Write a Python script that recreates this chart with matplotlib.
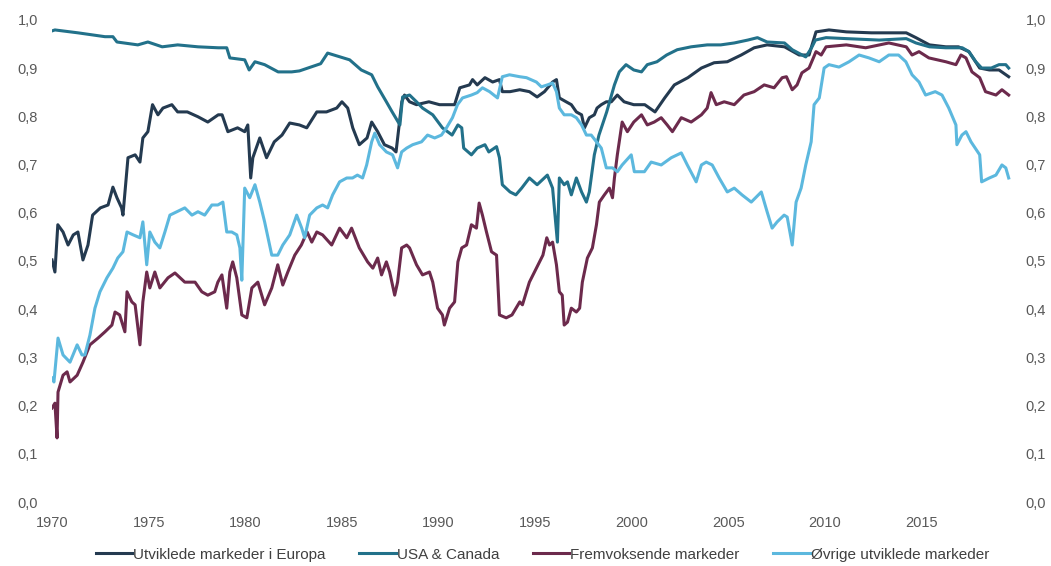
import matplotlib
matplotlib.use("Agg")
import matplotlib.pyplot as plt
from matplotlib.ticker import FuncFormatter

# --- data (correlation, 1970-2019) ---
years_eu = [1970.0, 1970.15, 1970.3, 1970.57, 1970.83, 1971.1, 1971.34, 1971.6, 1971.86, 1972.1,
            1972.5, 1972.9, 1973.15, 1973.36, 1973.6, 1973.67, 1973.93, 1974.3, 1974.55, 1974.7,
            1974.96, 1975.2, 1975.48, 1975.74, 1976.2, 1976.5, 1977.0, 1977.55, 1978.06, 1978.6,
            1978.8, 1979.1, 1979.6, 1979.97, 1980.13, 1980.28, 1980.39, 1980.75, 1981.1, 1981.5,
            1981.9, 1982.3, 1982.8, 1983.18, 1983.7, 1984.2, 1984.73, 1985.0, 1985.3, 1985.56,
            1985.9, 1986.3, 1986.54, 1986.85, 1987.2, 1987.6, 1987.8, 1988.1, 1988.24, 1988.5,
            1988.86, 1989.5, 1990.05, 1990.83, 1991.1, 1991.6, 1991.76, 1992.0, 1992.4, 1992.8,
            1993.15, 1993.3, 1993.7, 1994.2, 1994.7, 1995.1, 1995.48, 1995.9, 1996.1, 1996.25,
            1996.6, 1996.87, 1997.13, 1997.4, 1997.55, 1997.8, 1998.06, 1998.2, 1998.42, 1998.68,
            1998.94, 1999.25, 1999.6, 2000.1, 2000.67, 2001.2, 2001.7, 2002.2, 2002.9, 2003.6,
            2004.26, 2004.94, 2005.66, 2006.33, 2007.0, 2007.9, 2008.66, 2009.17, 2009.53, 2010.2,
            2011.1, 2012.4, 2014.2, 2014.7, 2015.4, 2016.25, 2016.9, 2017.44, 2018.0, 2018.5,
            2019.0, 2019.5]
europa = [0.502, 0.477, 0.575, 0.560, 0.533, 0.554, 0.560, 0.502, 0.533, 0.595,
          0.610, 0.616, 0.653, 0.631, 0.610, 0.595, 0.714, 0.720, 0.705, 0.755,
          0.768, 0.824, 0.803, 0.817, 0.824, 0.809, 0.809, 0.799, 0.788, 0.803,
          0.803, 0.768, 0.776, 0.768, 0.782, 0.672, 0.714, 0.755, 0.714, 0.747,
          0.761, 0.786, 0.782, 0.776, 0.809, 0.809, 0.817, 0.830, 0.817, 0.776,
          0.741, 0.755, 0.788, 0.768, 0.741, 0.734, 0.726, 0.830, 0.844, 0.830,
          0.824, 0.830, 0.824, 0.824, 0.859, 0.865, 0.876, 0.865, 0.880, 0.871,
          0.876, 0.851, 0.851, 0.855, 0.851, 0.840, 0.851, 0.871, 0.876, 0.838,
          0.830, 0.824, 0.809, 0.803, 0.776, 0.797, 0.803, 0.817, 0.824, 0.830,
          0.830, 0.844, 0.830, 0.824, 0.824, 0.809, 0.838, 0.865, 0.880, 0.900,
          0.911, 0.913, 0.927, 0.942, 0.948, 0.944, 0.927, 0.927, 0.975, 0.979,
          0.975, 0.973, 0.973, 0.963, 0.948, 0.944, 0.944, 0.934, 0.900, 0.896,
          0.896, 0.882]

years_us = [1970.0, 1970.15, 1971.34, 1972.74, 1973.15, 1973.36, 1974.44, 1974.96, 1975.7, 1976.5,
            1977.55, 1978.6, 1979.04, 1979.2, 1979.97, 1980.2, 1980.5, 1981.0, 1981.7, 1982.4,
            1982.8, 1983.9, 1984.26, 1985.4, 1986.0, 1986.54, 1986.85, 1987.3, 1987.6, 1988.0,
            1988.14, 1988.5, 1988.86, 1989.17, 1989.7, 1990.2, 1990.7, 1991.0, 1991.2, 1991.3,
            1991.7, 1992.0, 1992.4, 1992.6, 1993.0, 1993.15, 1993.3, 1993.7, 1994.0, 1994.3,
            1994.7, 1995.1, 1995.63, 1995.9, 1996.15, 1996.25, 1996.5, 1996.67, 1996.87, 1997.13,
            1997.4, 1997.65, 1997.8, 1998.06, 1998.3, 1998.7, 1999.1, 1999.35, 1999.7, 2000.1,
            2000.5, 2000.8, 2001.3, 2001.8, 2002.35, 2003.07, 2003.9, 2004.6, 2005.3, 2006.0,
            2006.5, 2007.0, 2007.9, 2008.3, 2009.0, 2009.3, 2009.5, 2010.05, 2011.1, 2012.8,
            2014.2, 2014.7, 2015.4, 2016.25, 2017.1, 2017.44, 2017.8, 2018.1, 2018.6, 2019.0,
            2019.35, 2019.5]
usa_canada = [0.977, 0.979, 0.973, 0.965, 0.965, 0.954, 0.948, 0.954, 0.944, 0.948,
              0.944, 0.942, 0.942, 0.921, 0.917, 0.896, 0.913, 0.907, 0.892, 0.892,
              0.894, 0.909, 0.931, 0.917, 0.896, 0.886, 0.861, 0.830, 0.809, 0.782,
              0.840, 0.844, 0.830, 0.817, 0.803, 0.776, 0.761, 0.782, 0.776, 0.734,
              0.720, 0.734, 0.741, 0.726, 0.737, 0.714, 0.658, 0.643, 0.637, 0.651,
              0.672, 0.658, 0.678, 0.651, 0.539, 0.672, 0.658, 0.664, 0.637, 0.672,
              0.643, 0.622, 0.643, 0.720, 0.761, 0.809, 0.865, 0.892, 0.907, 0.896,
              0.892, 0.907, 0.913, 0.927, 0.938, 0.944, 0.948, 0.948, 0.952, 0.958,
              0.963, 0.954, 0.952, 0.938, 0.923, 0.942, 0.958, 0.963, 0.961, 0.958,
              0.961, 0.952, 0.944, 0.942, 0.942, 0.934, 0.913, 0.900, 0.900, 0.907,
              0.907, 0.900]

years_em = [1970.0, 1970.15, 1970.26, 1970.31, 1970.57, 1970.78, 1970.93, 1971.3, 1971.6, 1971.96,
            1972.38, 1972.74, 1973.1, 1973.26, 1973.5, 1973.77, 1973.88, 1974.13, 1974.3, 1974.55,
            1974.7, 1974.9, 1975.06, 1975.32, 1975.58, 1976.0, 1976.36, 1976.87, 1977.4, 1977.75,
            1978.06, 1978.42, 1978.58, 1978.79, 1979.04, 1979.2, 1979.35, 1979.56, 1979.82, 1980.08,
            1980.34, 1980.65, 1981.0, 1981.37, 1981.68, 1981.94, 1982.2, 1982.56, 1982.9, 1983.2,
            1983.44, 1983.7, 1984.0, 1984.47, 1984.88, 1985.25, 1985.5, 1985.9, 1986.33, 1986.6,
            1986.85, 1987.05, 1987.3, 1987.47, 1987.73, 1987.88, 1988.09, 1988.35, 1988.5, 1988.86,
            1989.17, 1989.53, 1989.7, 1989.95, 1990.2, 1990.3, 1990.57, 1990.83, 1991.0, 1991.2,
            1991.45, 1991.7, 1991.96, 1992.1, 1992.27, 1992.48, 1992.74, 1993.0, 1993.15, 1993.5,
            1993.8, 1994.2, 1994.34, 1994.7, 1995.06, 1995.4, 1995.6, 1995.74, 1995.9, 1996.1,
            1996.25, 1996.4, 1996.5, 1996.67, 1996.87, 1997.13, 1997.3, 1997.44, 1997.7, 1997.96,
            1998.17, 1998.32, 1998.58, 1998.84, 1999.0, 1999.1, 1999.25, 1999.5, 1999.77, 2000.1,
            2000.5, 2000.8, 2001.16, 2001.52, 2001.83, 2002.1, 2002.56, 2003.07, 2003.6, 2003.9,
            2004.1, 2004.37, 2004.78, 2005.3, 2005.8, 2006.33, 2006.85, 2007.36, 2007.78, 2008.0,
            2008.3, 2008.55, 2008.8, 2009.17, 2009.53, 2009.8, 2010.05, 2011.1, 2012.1, 2013.3,
            2014.2, 2014.5, 2014.86, 2015.37, 2016.25, 2016.77, 2017.03, 2017.29, 2017.6, 2018.0,
            2018.3, 2018.84, 2019.15, 2019.5]
fremvoksende = [0.195, 0.205, 0.133, 0.228, 0.263, 0.270, 0.249, 0.263, 0.290, 0.326,
                0.340, 0.353, 0.367, 0.394, 0.388, 0.353, 0.436, 0.415, 0.409, 0.326,
                0.415, 0.477, 0.444, 0.477, 0.444, 0.465, 0.475, 0.456, 0.456, 0.436,
                0.429, 0.436, 0.456, 0.471, 0.402, 0.477, 0.498, 0.465, 0.388, 0.382,
                0.444, 0.456, 0.409, 0.444, 0.492, 0.450, 0.477, 0.512, 0.533, 0.560,
                0.539, 0.560, 0.554, 0.533, 0.568, 0.548, 0.568, 0.527, 0.498, 0.485,
                0.506, 0.471, 0.498, 0.477, 0.429, 0.456, 0.527, 0.533, 0.527, 0.492,
                0.471, 0.477, 0.456, 0.402, 0.388, 0.367, 0.402, 0.415, 0.498, 0.527,
                0.533, 0.575, 0.568, 0.620, 0.595, 0.560, 0.519, 0.512, 0.388, 0.382,
                0.388, 0.415, 0.409, 0.456, 0.485, 0.512, 0.548, 0.533, 0.539, 0.492,
                0.436, 0.429, 0.367, 0.373, 0.402, 0.394, 0.402, 0.456, 0.506, 0.527,
                0.575, 0.622, 0.637, 0.651, 0.631, 0.672, 0.720, 0.788, 0.768, 0.788,
                0.803, 0.782, 0.788, 0.797, 0.782, 0.768, 0.797, 0.788, 0.803, 0.817,
                0.849, 0.824, 0.830, 0.824, 0.844, 0.851, 0.865, 0.859, 0.880, 0.882,
                0.855, 0.865, 0.890, 0.900, 0.934, 0.927, 0.944, 0.948, 0.942, 0.952,
                0.944, 0.927, 0.934, 0.921, 0.913, 0.907, 0.927, 0.921, 0.892, 0.880,
                0.851, 0.844, 0.855, 0.844]

years_ot = [1970.0, 1970.1, 1970.31, 1970.57, 1970.93, 1971.3, 1971.55, 1971.7, 1971.96, 1972.22,
            1972.48, 1972.84, 1973.15, 1973.4, 1973.67, 1973.88, 1974.2, 1974.55, 1974.7, 1974.9,
            1975.06, 1975.32, 1975.58, 1975.84, 1976.1, 1976.46, 1976.87, 1977.24, 1977.55, 1977.9,
            1978.27, 1978.58, 1978.84, 1979.04, 1979.3, 1979.56, 1979.72, 1979.82, 1979.97, 1980.23,
            1980.5, 1980.75, 1981.0, 1981.37, 1981.68, 1981.94, 1982.3, 1982.66, 1982.92, 1983.07,
            1983.33, 1983.7, 1984.0, 1984.26, 1984.52, 1984.88, 1985.25, 1985.55, 1985.8, 1986.07,
            1986.28, 1986.54, 1986.7, 1986.95, 1987.3, 1987.62, 1987.88, 1988.09, 1988.35, 1988.66,
            1989.12, 1989.43, 1989.8, 1990.15, 1990.41, 1990.72, 1990.98, 1991.24, 1991.7, 1992.0,
            1992.27, 1992.64, 1993.05, 1993.3, 1993.67, 1994.2, 1994.55, 1995.06, 1995.32, 1995.63,
            1995.9, 1996.1, 1996.25, 1996.5, 1996.87, 1997.13, 1997.4, 1997.65, 1997.9, 1998.17,
            1998.42, 1998.68, 1999.0, 1999.25, 1999.5, 1999.97, 2000.13, 2000.65, 2001.0, 2001.52,
            2002.04, 2002.56, 2002.87, 2003.33, 2003.6, 2003.85, 2004.16, 2004.52, 2004.94, 2005.3,
            2005.7, 2006.18, 2006.7, 2007.0, 2007.26, 2007.52, 2007.88, 2008.04, 2008.3, 2008.5,
            2008.76, 2009.0, 2009.28, 2009.43, 2009.7, 2009.95, 2010.2, 2010.72, 2011.24, 2011.76,
            2012.27, 2012.8, 2013.3, 2013.8, 2014.18, 2014.5, 2014.86, 2015.2, 2015.7, 2016.05,
            2016.4, 2016.77, 2016.82, 2017.08, 2017.29, 2017.55, 2018.0, 2018.1, 2018.5, 2018.84,
            2019.15, 2019.35, 2019.5]
ovrige = [0.257, 0.249, 0.340, 0.305, 0.290, 0.326, 0.305, 0.305, 0.346, 0.402,
          0.436, 0.465, 0.485, 0.506, 0.519, 0.560, 0.554, 0.548, 0.581, 0.492,
          0.560, 0.539, 0.527, 0.560, 0.595, 0.602, 0.610, 0.595, 0.602, 0.595,
          0.616, 0.616, 0.622, 0.560, 0.560, 0.554, 0.527, 0.460, 0.651, 0.631,
          0.658, 0.622, 0.581, 0.512, 0.512, 0.533, 0.554, 0.595, 0.568, 0.548,
          0.595, 0.610, 0.616, 0.610, 0.637, 0.664, 0.672, 0.672, 0.678, 0.672,
          0.699, 0.747, 0.765, 0.741, 0.726, 0.720, 0.693, 0.726, 0.734, 0.741,
          0.747, 0.761, 0.755, 0.761, 0.776, 0.797, 0.824, 0.838, 0.844, 0.849,
          0.859, 0.851, 0.838, 0.882, 0.886, 0.882, 0.880, 0.871, 0.861, 0.865,
          0.869, 0.851, 0.817, 0.803, 0.803, 0.797, 0.782, 0.761, 0.761, 0.747,
          0.734, 0.693, 0.693, 0.685, 0.699, 0.720, 0.685, 0.685, 0.705, 0.699,
          0.714, 0.724, 0.699, 0.664, 0.699, 0.705, 0.699, 0.672, 0.643, 0.651,
          0.637, 0.622, 0.643, 0.602, 0.568, 0.581, 0.595, 0.591, 0.533, 0.622,
          0.651, 0.699, 0.747, 0.824, 0.838, 0.900, 0.907, 0.902, 0.913, 0.927,
          0.921, 0.913, 0.927, 0.927, 0.913, 0.886, 0.871, 0.844, 0.851, 0.844,
          0.817, 0.782, 0.741, 0.761, 0.768, 0.747, 0.720, 0.664, 0.672, 0.678,
          0.699, 0.693, 0.672]

labels = ["Utviklede markeder i Europa", "USA & Canada",
          "Fremvoksende markeder", "Øvrige utviklede markeder"]
colors = ["#243a50", "#22718a", "#6c2a4c", "#5cb8de"]
x_ticks = [1970, 1975, 1980, 1985, 1990, 1995, 2000, 2005, 2010, 2015]

plt.rcParams["font.family"] = ["Liberation Sans", "DejaVu Sans"]

fig = plt.figure(figsize=(10.51, 5.66), dpi=100)
ax = fig.add_axes([0.0495, 0.113, 0.913, 0.852])

series = [(years_eu, europa), (years_us, usa_canada),
          (years_em, fremvoksende), (years_ot, ovrige)]
for (xs, ys), lab, col in zip(series, labels, colors):
    ax.plot(xs, ys, color=col, lw=2.2, label=lab, solid_joinstyle="round")

ax.set_xlim(1970, 2019.65)
ax.set_ylim(0, 1.0)
ax.set_xticks(x_ticks)
ax.set_yticks([i / 10 for i in range(11)])
ax.yaxis.set_major_formatter(FuncFormatter(lambda v, _: f"{v:.1f}".replace(".", ",")))

for s in ax.spines.values():
    s.set_visible(False)
ax.tick_params(axis="both", length=0, labelsize=10.5, labelcolor="#595959")
ax.tick_params(axis="x", pad=10)
ax.tick_params(axis="y", pad=10, labelright=True)

fig.legend(loc="center", bbox_to_anchor=(0.516, 0.02), ncol=4, frameon=False,
           fontsize=11, handlelength=2.4, handletextpad=0.05, columnspacing=2.2,
           labelcolor="#404040")

fig.savefig("out.png", dpi=100)
